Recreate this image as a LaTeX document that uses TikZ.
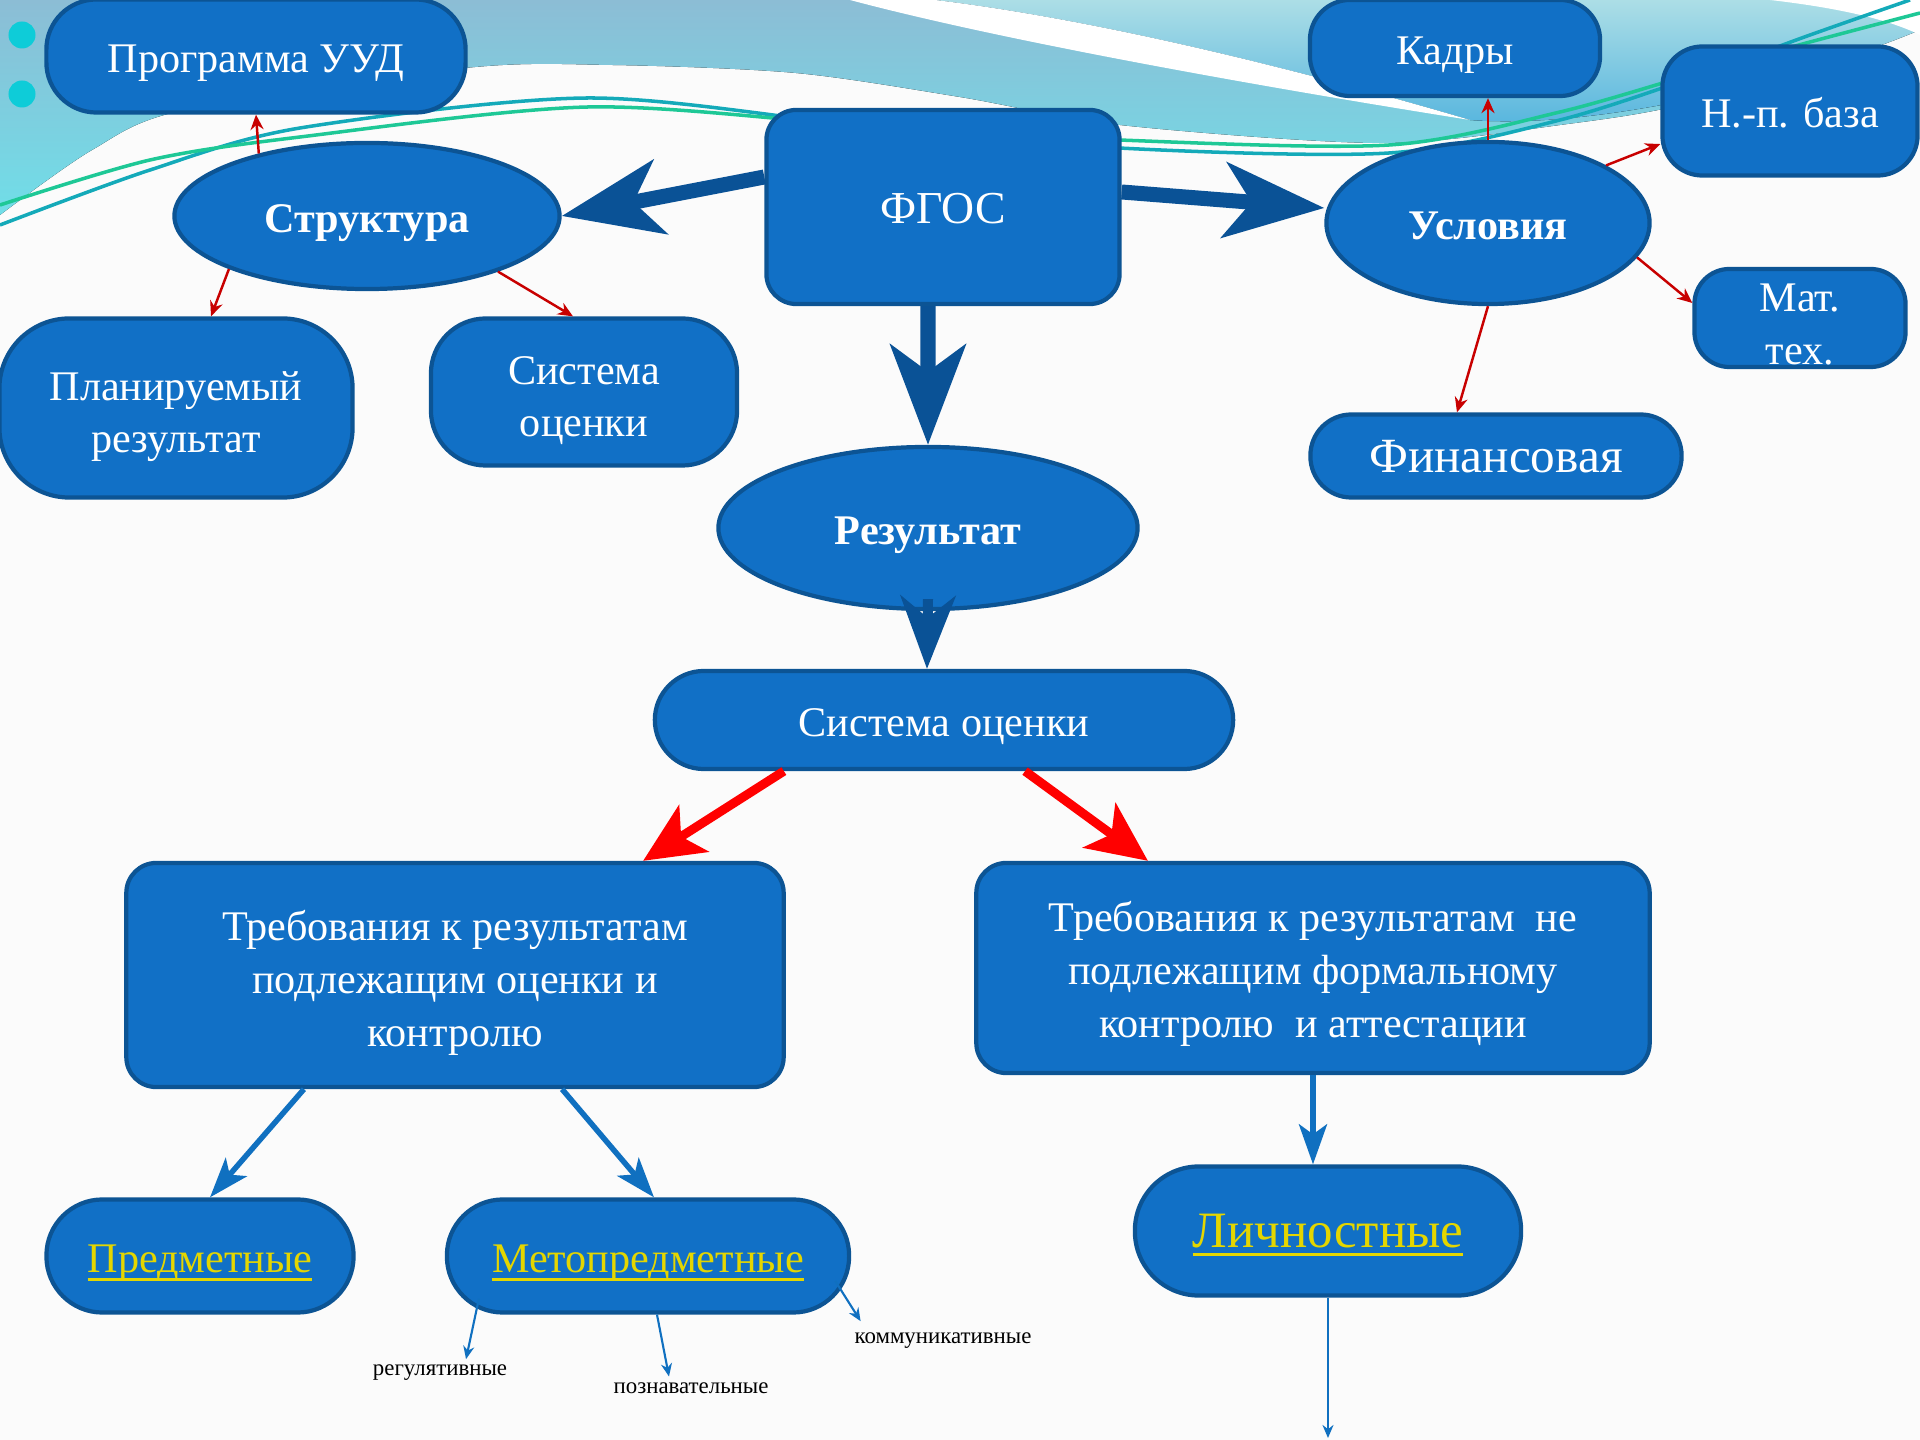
\documentclass[tikz,border=0pt]{standalone}
\usepackage{fontspec}
\setmainfont{Liberation Serif}
\usetikzlibrary{arrows.meta,shapes.geometric}

\definecolor{nodefill}{RGB}{17,112,198}
\definecolor{nodeline}{RGB}{12,84,148}
\definecolor{bigblue}{RGB}{10,82,150}
\definecolor{midblue}{RGB}{16,112,192}
\definecolor{thinred}{RGB}{200,0,0}
\definecolor{linkyellow}{RGB}{228,214,0}
\definecolor{wavetop}{RGB}{140,189,213}
\definecolor{wavebot}{RGB}{112,222,232}
\definecolor{wavelt}{RGB}{172,222,230}
\definecolor{wavedk}{RGB}{84,180,222}
\definecolor{tealline}{RGB}{20,170,185}
\definecolor{greenline}{RGB}{30,200,150}
\definecolor{dotcyan}{RGB}{14,204,216}

% yellow underlined link text
\newcommand{\yul}[1]{\setbox0\hbox{#1}\rlap{\rule[-2.4pt]{\wd0}{0.9pt}}\box0}
% taller first line for the two- and three-line boxes
\newcommand{\topstrut}[1][10.5pt]{\rule{0pt}{#1}}

\begin{document}
\begin{tikzpicture}[x=0.01cm,y=-0.01cm,
    box/.style={draw=nodeline,fill=nodefill,line width=1.2pt,text=white,align=center,
      inner sep=0pt,text depth=0pt,execute at begin node={\rule{0pt}{9.6pt}},
      rounded corners=#1,font=\fontsize{12}{15}\selectfont},
    box/.default=3mm,
    oval/.style={ellipse,draw=nodeline,fill=nodefill,line width=1.2pt,text=white,
      inner sep=0pt,text depth=0pt,execute at begin node={\rule{0pt}{9.6pt}},
      font=\fontsize{12}{15}\selectfont\bfseries},
    label/.style={inner sep=1.5pt,font=\fontsize{6.5}{8}\selectfont},
    bigarrow/.style={draw=bigblue,line width=1.5mm,-{Stealth[length=10mm,width=7.5mm,inset=2.7mm]}},
    redarrow/.style={draw=red,line width=0.9mm,-{Stealth[length=6mm,width=5.5mm,inset=1.5mm]}},
    bluearrow/.style={draw=midblue,line width=0.55mm,-{Stealth[length=4mm,width=2.8mm,inset=1mm]}},
    thinarrow/.style={draw=thinred,line width=0.7pt,-{Stealth[length=1.5mm,width=1.3mm]}},
    subarrow/.style={draw=midblue,line width=0.6pt,-{Stealth[length=1.3mm,width=1.1mm]}}]
  \useasboundingbox (0,0) rectangle (1920,1440);
  \fill[white!97!gray] (0,0) rectangle (1920,1440);

  % waves at the top
  \fill[top color=wavetop,bottom color=wavebot] (0,0) -- (1920,0) -- plot[smooth] coordinates
    {(1920,25) (1700,100) (1560,125) (1380,143) (1120,125) (960,97) (796,73) (612,65) (465,68) (184,110) (92,150) (0,215)} -- cycle;
  \fill[top color=wavelt,bottom color=wavedk] (935,0) .. controls (1100,20) and (1300,70) .. (1470,120)
    .. controls (1600,130) and (1800,80) .. (1920,30) -- (1920,0) -- cycle;
  \fill[white] (850,0) .. controls (1000,40) and (1250,85) .. (1470,120)
    .. controls (1300,70) and (1100,20) .. (935,0) -- cycle;
  \fill[white] (1770,0) .. controls (1840,8) and (1890,20) .. (1920,35) -- (1920,0) -- cycle;
  \draw[tealline,line width=1pt] plot[smooth] coordinates
    {(0,225) (150,170) (300,128) (588,98) (857,125) (1119,148) (1389,153) (1560,120) (1700,75) (1810,35) (1910,0)};
  \draw[greenline,line width=1pt] plot[smooth] coordinates
    {(0,205) (150,160) (300,137) (588,107) (857,125) (1119,140) (1389,145) (1560,112) (1700,72) (1810,42) (1920,13)};
  \fill[dotcyan] (22,35) circle[radius=1.35mm];
  \fill[dotcyan] (22,94) circle[radius=1.35mm];

  % upper part
  \node[box=5mm,minimum width=4.19cm,minimum height=1.13cm] (uud) at (256,56) {Программа УУД};
  \node[box=4mm,minimum width=2.9cm,minimum height=0.96cm] (kadry) at (1455,48) {Кадры};
  \node[box=4mm,minimum width=2.55cm,minimum height=1.29cm] (baza) at (1790,111) {Н.-п. база};
  \node[box=3mm,minimum width=3.53cm,minimum height=1.94cm,font=\fontsize{13}{16}\selectfont] (fgos) at (943,207) {ФГОС};
  \node[oval,minimum width=3.85cm,minimum height=1.46cm] (struct) at (367,216) {Структура};
  \node[oval,minimum width=3.23cm,minimum height=1.62cm] (uslov) at (1488,223) {Условия};
  \node[box=7mm,minimum width=3.53cm,minimum height=1.79cm] (plan) at (176,408) {\topstrut Планируемый\\результат};
  \node[box=5.5mm,minimum width=3.06cm,minimum height=1.47cm] (sist) at (584,392) {\topstrut Система\\оценки};
  \node[box=3.5mm,minimum width=2.11cm,minimum height=0.98cm] (mat) at (1800,318) {\topstrut[11.5pt]Мат.\\тех.};
  \node[box=4.1mm,minimum width=3.71cm,minimum height=0.83cm,font=\fontsize{14}{17}\selectfont] (fin) at (1496,456) {Финансовая};
  \node[oval,minimum width=4.19cm,minimum height=1.62cm] (rez) at (928,528) {Результат};

  % lower part
  \node[box=4.9mm,minimum width=5.78cm,minimum height=0.98cm] (ocenka) at (944,720) {Система оценки};
  \node[box=3mm,minimum width=6.57cm,minimum height=2.24cm] (treb) at (455,975)
    {\topstrut Требования к результатам\\подлежащим оценки и\\контролю};
  \node[box=3mm,minimum width=6.73cm,minimum height=2.1cm] (nontreb) at (1313,968)
    {\topstrut[9.5pt]Требования к результатам\ \ не\\подлежащим формальному\\контролю\ \ и аттестации};
  \node[box=5.6mm,minimum width=3.07cm,minimum height=1.13cm,text=linkyellow] (pred) at (200,1256) {\yul{Предметные}};
  \node[box=5.6mm,minimum width=4.02cm,minimum height=1.13cm,text=linkyellow] (meta) at (648,1256) {\yul{Метопредметные}};
  \node[box=6.4mm,minimum width=3.86cm,minimum height=1.29cm,text=linkyellow,
    font=\fontsize{14.5}{17}\selectfont] (lich) at (1328,1231) {\yul{Личностные}};
  \node[label] (reg) at (440,1373) {регулятивные};
  \node[label] (pozn) at (691,1388) {познавательные};
  \node[label] (komm) at (943,1341) {коммуникативные};
  \coordinate (lichend) at (1328,1438);

  % big arrows
  \draw[bigarrow] ([yshift=3mm]fgos.west) -- (struct.east);
  \draw[bigarrow] ([yshift=1.5mm]fgos.east) -- ([yshift=1.5mm]uslov.west);
  \draw[bigarrow] ([xshift=-1.5mm]fgos.south) -- (rez.north);
  \draw[bigarrow,line width=1mm,-{Stealth[length=7.3mm,width=5.5mm,inset=2.2mm]}] ([yshift=1.2mm]rez.south) -- ([xshift=-1.7mm]ocenka.north);
  \draw[redarrow] ([xshift=-16mm]ocenka.south) -- ([xshift=18.8mm]treb.north);
  \draw[redarrow] ([xshift=8.1mm]ocenka.south) -- ([xshift=-16.5mm]nontreb.north);
  \draw[bluearrow] ([xshift=-15.1mm]treb.south) -- ([xshift=1mm]pred.north);
  \draw[bluearrow] ([xshift=10.7mm]treb.south) -- ([xshift=0.6mm]meta.north);
  \draw[bluearrow] (nontreb.south) -- (nontreb.south |- lich.north);
  \draw[subarrow] (lich.south) -- (lichend);

  % thin arrows
  \draw[thinarrow] (struct.150) -- (uud.south);
  \draw[thinarrow] (struct.201) -- ([xshift=3.5mm]plan.north);
  \draw[thinarrow] (struct.-23) -- ([xshift=-1.1mm]sist.north);
  \draw[thinarrow] (uslov.north) -- (uslov.north |- kadry.south);
  \draw[thinarrow] (uslov.26) -- ([yshift=-3.3mm]baza.west);
  \draw[thinarrow] (uslov.-13) -- ([yshift=1.5mm]mat.west);
  \draw[thinarrow] (uslov.south) -- ([xshift=-3.9mm]fin.north);
  \draw[subarrow] ([xshift=-16.9mm,yshift=1.6mm]meta.south) -- ([xshift=2.6mm]reg.north);
  \draw[subarrow] ([xshift=0.9mm]meta.south) -- ([xshift=-2.2mm]pozn.north);
  \draw[subarrow] ([xshift=-1.6mm]meta.-7) -- ([xshift=1.2mm,yshift=0.6mm]komm.north west);
\end{tikzpicture}
\end{document}
